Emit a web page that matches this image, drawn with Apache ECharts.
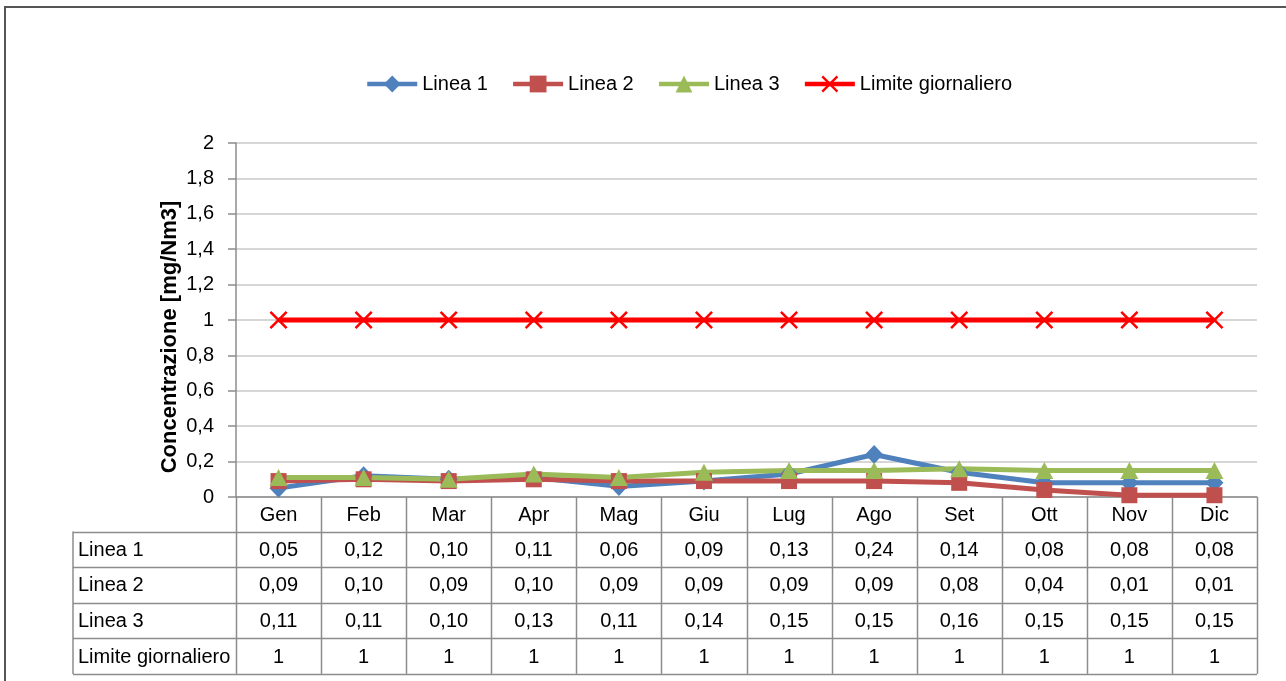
<!DOCTYPE html>
<html>
<head>
<meta charset="utf-8">
<script src="https://cdn.jsdelivr.net/npm/echarts@6/dist/echarts.min.js"></script>
<style>
html,body{margin:0;padding:0;background:#fff;}
#main{width:1286px;height:681px;}
</style>
</head>
<body>
<div id="main"></div>
<script>
var FONT = "'Liberation Sans',Arial,sans-serif";

var mesi = ['Gen','Feb','Mar','Apr','Mag','Giu','Lug','Ago','Set','Ott','Nov','Dic'];
var linea1 = [0.05,0.12,0.10,0.11,0.06,0.09,0.13,0.24,0.14,0.08,0.08,0.08];
var linea2 = [0.09,0.10,0.09,0.10,0.09,0.09,0.09,0.09,0.08,0.04,0.01,0.01];
var linea3 = [0.11,0.11,0.10,0.13,0.11,0.14,0.15,0.15,0.16,0.15,0.15,0.15];
var limite = [1,1,1,1,1,1,1,1,1,1,1,1];
var nomiSerie = ['Linea 1','Linea 2','Linea 3','Limite giornaliero'];
var coloriSerie = ['#4f81bd','#c0504d','#9bbb59','#ff0000'];
var titoloAsseY = 'Concentrazione [mg/Nm3]';

var chart = echarts.init(document.getElementById('main'));

// x marker for the limit line
var crossPath = 'path://M0,1L1,0L5,4L9,0L10,1L6,5L10,9L9,10L5,6L1,10L0,9L4,5Z';

var GRID = {left:236, right:29, top:143, bottom:184};

function fmt2(v){ return v.toFixed(2).replace('.',','); }

var option = {
    backgroundColor:'#fff',
    animation:false,
    textStyle:{fontFamily:FONT},
    legend:{
        top:69,
        left:360,
        itemWidth:50,
        itemHeight:21,
        itemGap:23,
        lineStyle:{width:4.5},
        textStyle:{fontSize:20,color:'#000',fontFamily:FONT},
        data:nomiSerie
    },
    grid:GRID,
    xAxis:{
        type:'category',
        data:mesi,
        boundaryGap:true,
        axisLine:{show:true,lineStyle:{color:'#8c8c8c',width:1.5}},
        axisTick:{show:false},
        axisLabel:{fontSize:20,color:'#000',margin:8,fontFamily:FONT}
    },
    yAxis:{
        type:'value',
        min:0,
        max:2,
        interval:0.2,
        axisLine:{show:true,lineStyle:{color:'#8c8c8c',width:1.5}},
        axisTick:{show:true,length:8,lineStyle:{color:'#8c8c8c',width:1.5}},
        axisLabel:{fontSize:20,color:'#000',margin:22,fontFamily:FONT,
            formatter:function(v){ return String(+v.toFixed(1)).replace('.',','); }},
        splitLine:{show:true,lineStyle:{color:'#c8c8c8',width:1.5}}
    },
    series:[
        {name:nomiSerie[0],type:'line',data:linea1,symbol:'diamond',symbolSize:[18,19],
         lineStyle:{width:5,color:coloriSerie[0]},itemStyle:{color:coloriSerie[0]}},
        {name:nomiSerie[1],type:'line',data:linea2,symbol:'rect',symbolSize:16,
         lineStyle:{width:5,color:coloriSerie[1]},itemStyle:{color:coloriSerie[1]}},
        {name:nomiSerie[2],type:'line',data:linea3,symbol:'triangle',symbolSize:[18,17],
         lineStyle:{width:5,color:coloriSerie[2]},itemStyle:{color:coloriSerie[2]}},
        {name:nomiSerie[3],type:'line',data:limite,symbol:crossPath,symbolSize:18,
         lineStyle:{width:5,color:coloriSerie[3]},itemStyle:{color:coloriSerie[3]}}
    ]
};
chart.setOption(option);

// data table below the plot, aligned with the category axis
function buildTable(){
    var righe = [linea1.map(fmt2), linea2.map(fmt2), linea3.map(fmt2), limite.map(String)];
    var W = 1286, H = 681;
    var x0 = GRID.left, x1 = W - GRID.right;
    var yTop = H - GRID.bottom;
    var headH = 34.5, rowH = 35.6;
    var tblLeft = 73;
    var colW = (x1 - x0) / mesi.length;
    var lc = '#8c8c8c';
    var els = [];
    // outer frame of the chart
    els.push({type:'rect',shape:{x:5,y:7,width:1300,height:700},
        style:{fill:null,stroke:'#555',lineWidth:2},silent:true});
    // y axis title
    els.push({type:'text',x:170,y:337,rotation:Math.PI/2,
        style:{text:titoloAsseY,fill:'#000',font:'bold 22px ' + FONT,textAlign:'center',textVerticalAlign:'middle'}});
    var yBottom = yTop + headH + rowH * righe.length;
    // vertical lines
    for(var i = 0; i <= mesi.length; i++){
        var x = Math.round(x0 + i * colW) + 0.5;
        els.push({type:'line',shape:{x1:x,y1:yTop,x2:x,y2:yBottom},style:{stroke:lc,lineWidth:1.5}});
    }
    els.push({type:'line',shape:{x1:tblLeft,y1:yTop+headH,x2:tblLeft,y2:yBottom},style:{stroke:lc,lineWidth:1.5}});
    // horizontal lines
    for(var r = 0; r <= righe.length; r++){
        var y = Math.round(yTop + headH + r * rowH) + 0.5;
        els.push({type:'line',shape:{x1:tblLeft,y1:y,x2:x1,y2:y},style:{stroke:lc,lineWidth:1.5}});
    }
    // cell texts
    for(var r = 0; r < righe.length; r++){
        var cy = yTop + headH + (r + 0.5) * rowH + 1;
        els.push({type:'text',x:tblLeft + 5,y:cy,
            style:{text:nomiSerie[r],fill:'#000',font:'20px ' + FONT,textVerticalAlign:'middle',textAlign:'left'}});
        for(var i = 0; i < mesi.length; i++){
            var cx = chart.convertToPixel({xAxisIndex:0}, i);
            els.push({type:'text',x:cx,y:cy,
                style:{text:righe[r][i],fill:'#000',font:'20px ' + FONT,textVerticalAlign:'middle',textAlign:'center'}});
        }
    }
    chart.setOption({graphic:{elements:els}});
}
buildTable();
</script>
</body>
</html>
